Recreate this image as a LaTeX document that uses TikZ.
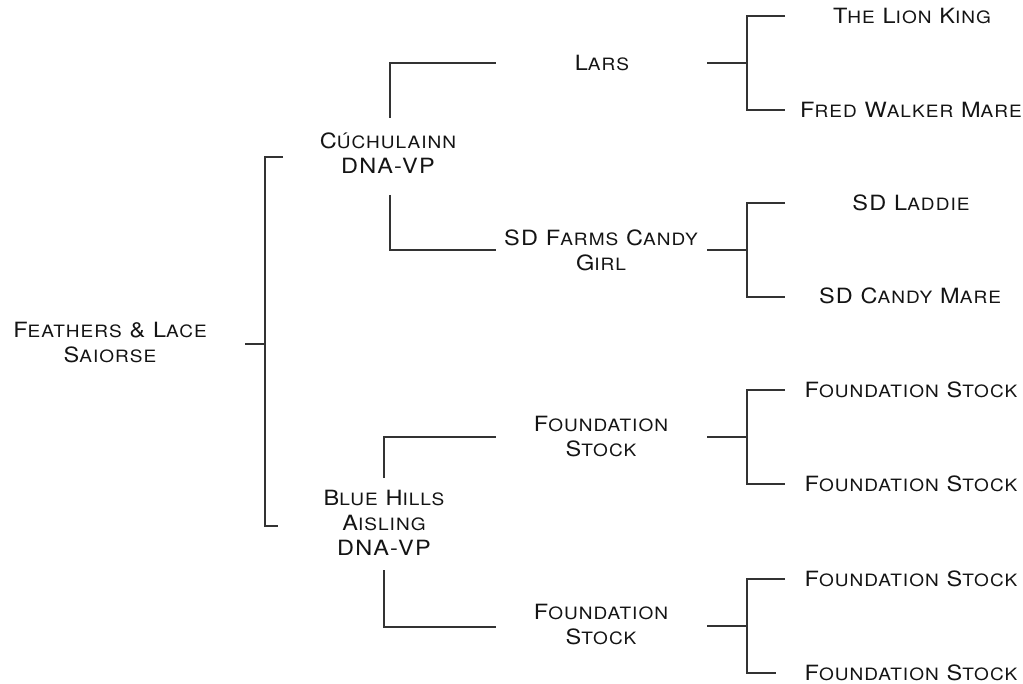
\documentclass[tikz,border=0pt]{standalone}
\usepackage{fontspec}
\setmainfont{TeX Gyre Heros}[LetterSpace=6,FakeStretch=1.12]
\newcommand\sm[1]{{\fontsize{17}{25}\selectfont #1}}
\begin{document}
\begin{tikzpicture}[x=1pt,y=-1pt,
  lbl/.style={inner sep=0pt, align=center, font=\fontsize{21}{25}\selectfont, text=black!92},
  br/.style={draw=black!80, line width=1.3pt}]
\useasboundingbox (0,0) rectangle (1023,684);
% labels
\node[lbl] (root) at (110,343) {F\sm{EATHERS} \& L\sm{ACE}\\ S\sm{AIORSE}};
\node[lbl] (cuc) at (388,153) {C\sm{ÚCHULAINN}\\ DNA-VP};
\node[lbl] (blue) at (384,523) {B\sm{LUE} H\sm{ILLS}\\ A\sm{ISLING}\\ DNA-VP};
\node[lbl] (lars) at (602,63) {L\sm{ARS}};
\node[lbl] (sdf) at (601,250) {SD F\sm{ARMS} C\sm{ANDY}\\ G\sm{IRL}};
\node[lbl] (fa) at (601,437) {F\sm{OUNDATION}\\ S\sm{TOCK}};
\node[lbl] (fb) at (601,625) {F\sm{OUNDATION}\\ S\sm{TOCK}};
\node[lbl] (lion) at (912,16) {T\sm{HE} L\sm{ION} K\sm{ING}};
\node[lbl] (fred) at (911,110) {F\sm{RED} W\sm{ALKER} M\sm{ARE}};
\node[lbl] (lad) at (911,203) {SD L\sm{ADDIE}};
\node[lbl] (cmare) at (910,296) {SD C\sm{ANDY} M\sm{ARE}};
\node[lbl] (f1) at (911,390) {F\sm{OUNDATION} S\sm{TOCK}};
\node[lbl] (f2) at (911,484) {F\sm{OUNDATION} S\sm{TOCK}};
\node[lbl] (f3) at (911,579) {F\sm{OUNDATION} S\sm{TOCK}};
\node[lbl] (f4) at (911,673) {F\sm{OUNDATION} S\sm{TOCK}};
% level 0 bracket
\coordinate (r0) at (245,344);
\coordinate (r1) at (265,344);
\draw[br] (r0) -- (r1);
\draw[br] (283,157) -- (265,157) -- (265,526) -- (278,526);
% level 1 brackets
\draw[br] (390,118) -- (390,63) -- (496,63);
\draw[br] (390,195) -- (390,250) -- (496,250);
\draw[br] (384,478) -- (384,437) -- (496,437);
\draw[br] (384,570) -- (384,627) -- (496,627);
% level 2 brackets
\foreach \y/\e in {63/785,250/785,437/785,626/776}{
  \draw[br] (707,\y) -- (747,\y);
  \draw[br] (785,\y-47) -- (747,\y-47) -- (747,\y+47) -- (\e,\y+47);
}
\end{tikzpicture}
\end{document}
